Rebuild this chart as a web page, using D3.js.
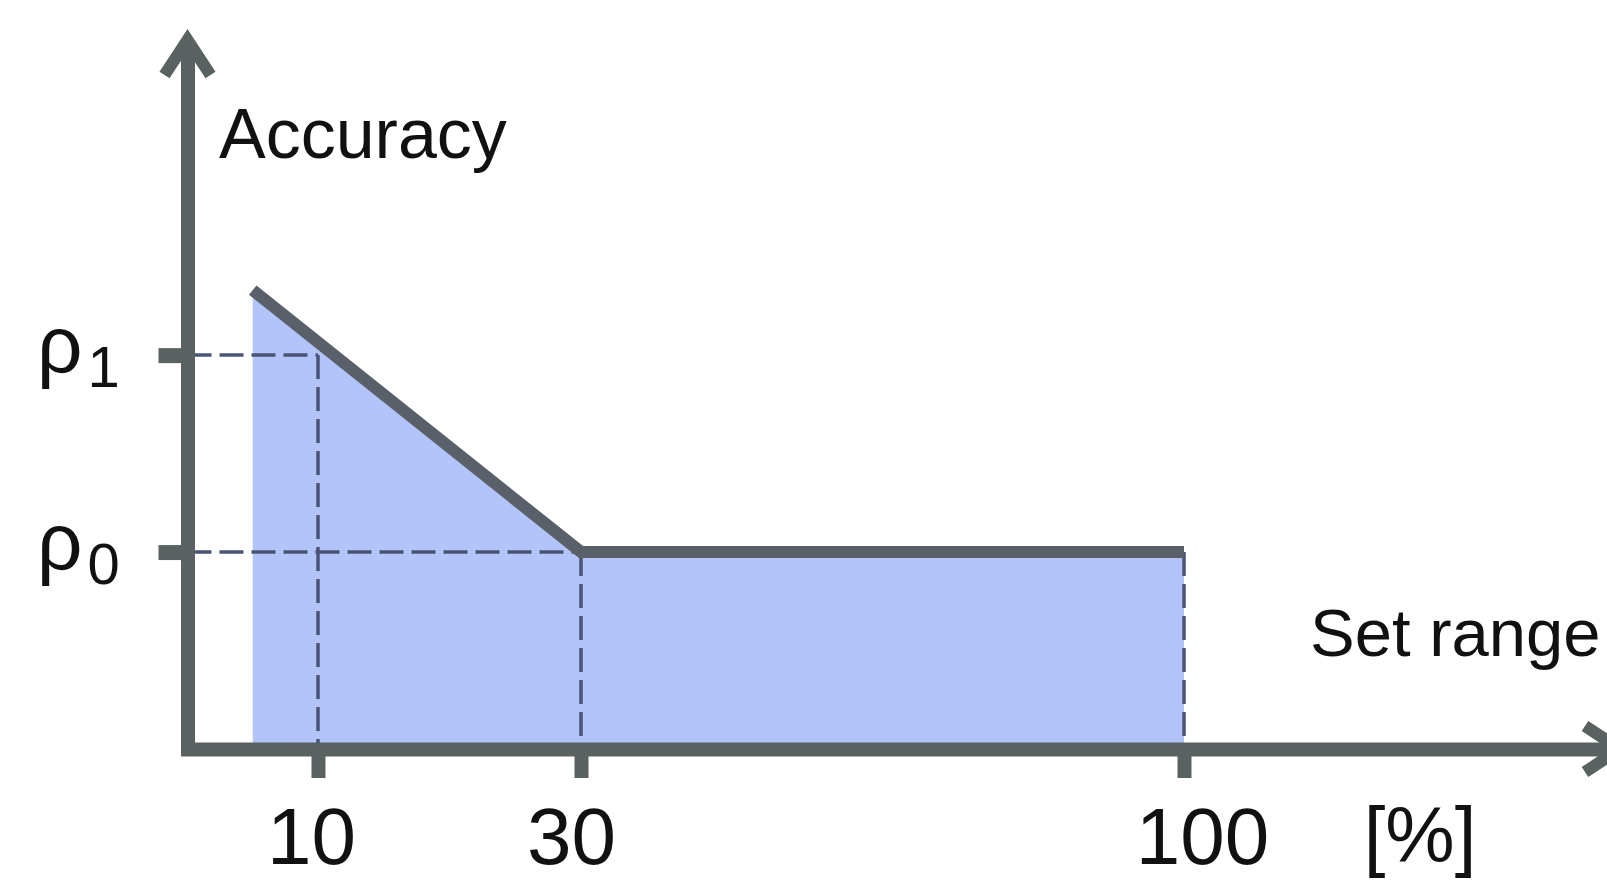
<!DOCTYPE html>
<html><head><meta charset="utf-8">
<script src="https://cdn.jsdelivr.net/npm/d3@7"></script>
<style>html,body{margin:0;padding:0;background:#fff;overflow:hidden}</style>
</head><body>
<svg id="c" width="1607" height="882"></svg>
<script>
// ---- data ----
const xTicks = [10, 30, 100];
const xTickLabels = ["10", "30", "100"];
const yTicks = [1, 2];
const yTickBase = ["ρ", "ρ"];
const yTickSub = ["0", "1"];
const curveX = [5, 30, 100];
const curveY = [2.33, 1, 1];
const guideX = [10, 30, 100];
const guideY = [2, 1, 1];
const guideHorizontal = [true, true, false];
const xUnit = "[%]";
const xTitle = "Set range";
const yTitle = "Accuracy";
const xMax = 150, yMax = 3.6;

// ---- styles ----
const axisColor = "#596161";
const lineColor = "#59606a";
const fillColor = "#b2c4fa";
const dashColor = "#4a5575";
const textColor = "#111";
const font = "'Liberation Sans', Arial, sans-serif";

const svg = d3.select("#c");

// schematic (piecewise) x axis, linear y axis
const x = d3.scaleLinear().domain([0, 10, 30, 100, xMax]).range([187.5, 318, 581, 1184, 1620]);
const y = d3.scaleLinear().domain([0, yMax]).range([749, 40]);

const pts = curveX.map((v, i) => [v, curveY[i]]);

// fill
svg.append("path")
  .datum(pts)
  .attr("fill", fillColor)
  .attr("d", d3.area().x(d => x(d[0])).y0(y(0)).y1(d => y(d[1])));

// dashed guides
guideX.forEach((gx, i) => {
  const gy = guideY[i];
  if (guideHorizontal[i]) {
    svg.append("line")
      .attr("x1", x(0)).attr("x2", x(gx)).attr("y1", y(gy)).attr("y2", y(gy))
      .attr("stroke", dashColor).attr("stroke-width", 3.5).attr("stroke-dasharray", "24 8");
  }
  svg.append("line")
    .attr("x1", x(gx)).attr("x2", x(gx)).attr("y1", y(gy)).attr("y2", y(0))
    .attr("stroke", dashColor).attr("stroke-width", 3.5).attr("stroke-dasharray", "24 8");
});

// curve line
svg.append("path")
  .datum(pts)
  .attr("fill", "none")
  .attr("stroke", lineColor)
  .attr("stroke-width", 12)
  .attr("d", d3.line().x(d => x(d[0])).y(d => y(d[1])));

// y axis
const gy = svg.append("g").attr("transform", `translate(${x(0)},0)`)
  .call(d3.axisLeft(y).tickValues(yTicks).tickSize(29).tickSizeOuter(0).tickFormat(""));
gy.select(".domain").attr("stroke", axisColor).attr("stroke-width", 14);
gy.selectAll(".tick line").attr("stroke", axisColor).attr("stroke-width", 15);
gy.selectAll(".tick text").each(function(d, i) {
  const t = d3.select(this);
  t.text(null)
    .attr("text-anchor", "start").attr("x", 37 - x(0)).attr("y", 16).attr("dy", null)
    .attr("fill", textColor).style("font-family", font).style("font-size", "80px");
  t.append("tspan").text(yTickBase[i]);
  t.append("tspan").text(yTickSub[i]).attr("dx", 5).attr("dy", 15).style("font-size", "58px");
});

// x axis
const labelNudge = {10: [-7, 0], 30: [-10, 0], 100: [18, 0]};
const gx = svg.append("g").attr("transform", `translate(0,${y(0)})`)
  .call(d3.axisBottom(x).tickValues(xTicks).tickSize(29).tickSizeOuter(0)
    .tickFormat((d, i) => xTickLabels[i]));
gx.select(".domain").attr("stroke", axisColor).attr("stroke-width", 14)
  .attr("stroke-linecap", "square");
gx.selectAll(".tick line").attr("stroke", axisColor).attr("stroke-width", 14);
gx.selectAll(".tick text")
  .attr("y", d => 115 + labelNudge[d][1]).attr("dy", null)
  .attr("dx", d => labelNudge[d][0])
  .attr("fill", textColor).style("font-family", font).style("font-size", "80px");

// arrowheads
const ax = x(0), ay = y(yMax);
svg.append("path")
  .attr("d", `M${ax - 23},${ay + 35}L${ax},${ay}L${ax + 23},${ay + 35}`)
  .attr("fill", "none").attr("stroke", axisColor).attr("stroke-width", 12);
const bx = x(xMax), by = y(0);
svg.append("path")
  .attr("d", `M${bx - 35},${by - 23}L${bx},${by}L${bx - 35},${by + 23}`)
  .attr("fill", "none").attr("stroke", axisColor).attr("stroke-width", 12);

// titles
svg.append("text").attr("x", 219).attr("y", 158).text(yTitle)
  .attr("fill", textColor).style("font-family", font).style("font-size", "70px");
svg.append("text").attr("x", 1310).attr("y", 656).text(xTitle)
  .attr("fill", textColor).style("font-family", font).style("font-size", "67px");
svg.append("text").attr("x", 1420).attr("y", 862).attr("text-anchor", "middle").text(xUnit)
  .attr("fill", textColor).style("font-family", font).style("font-size", "78px");
</script>
</body></html>
